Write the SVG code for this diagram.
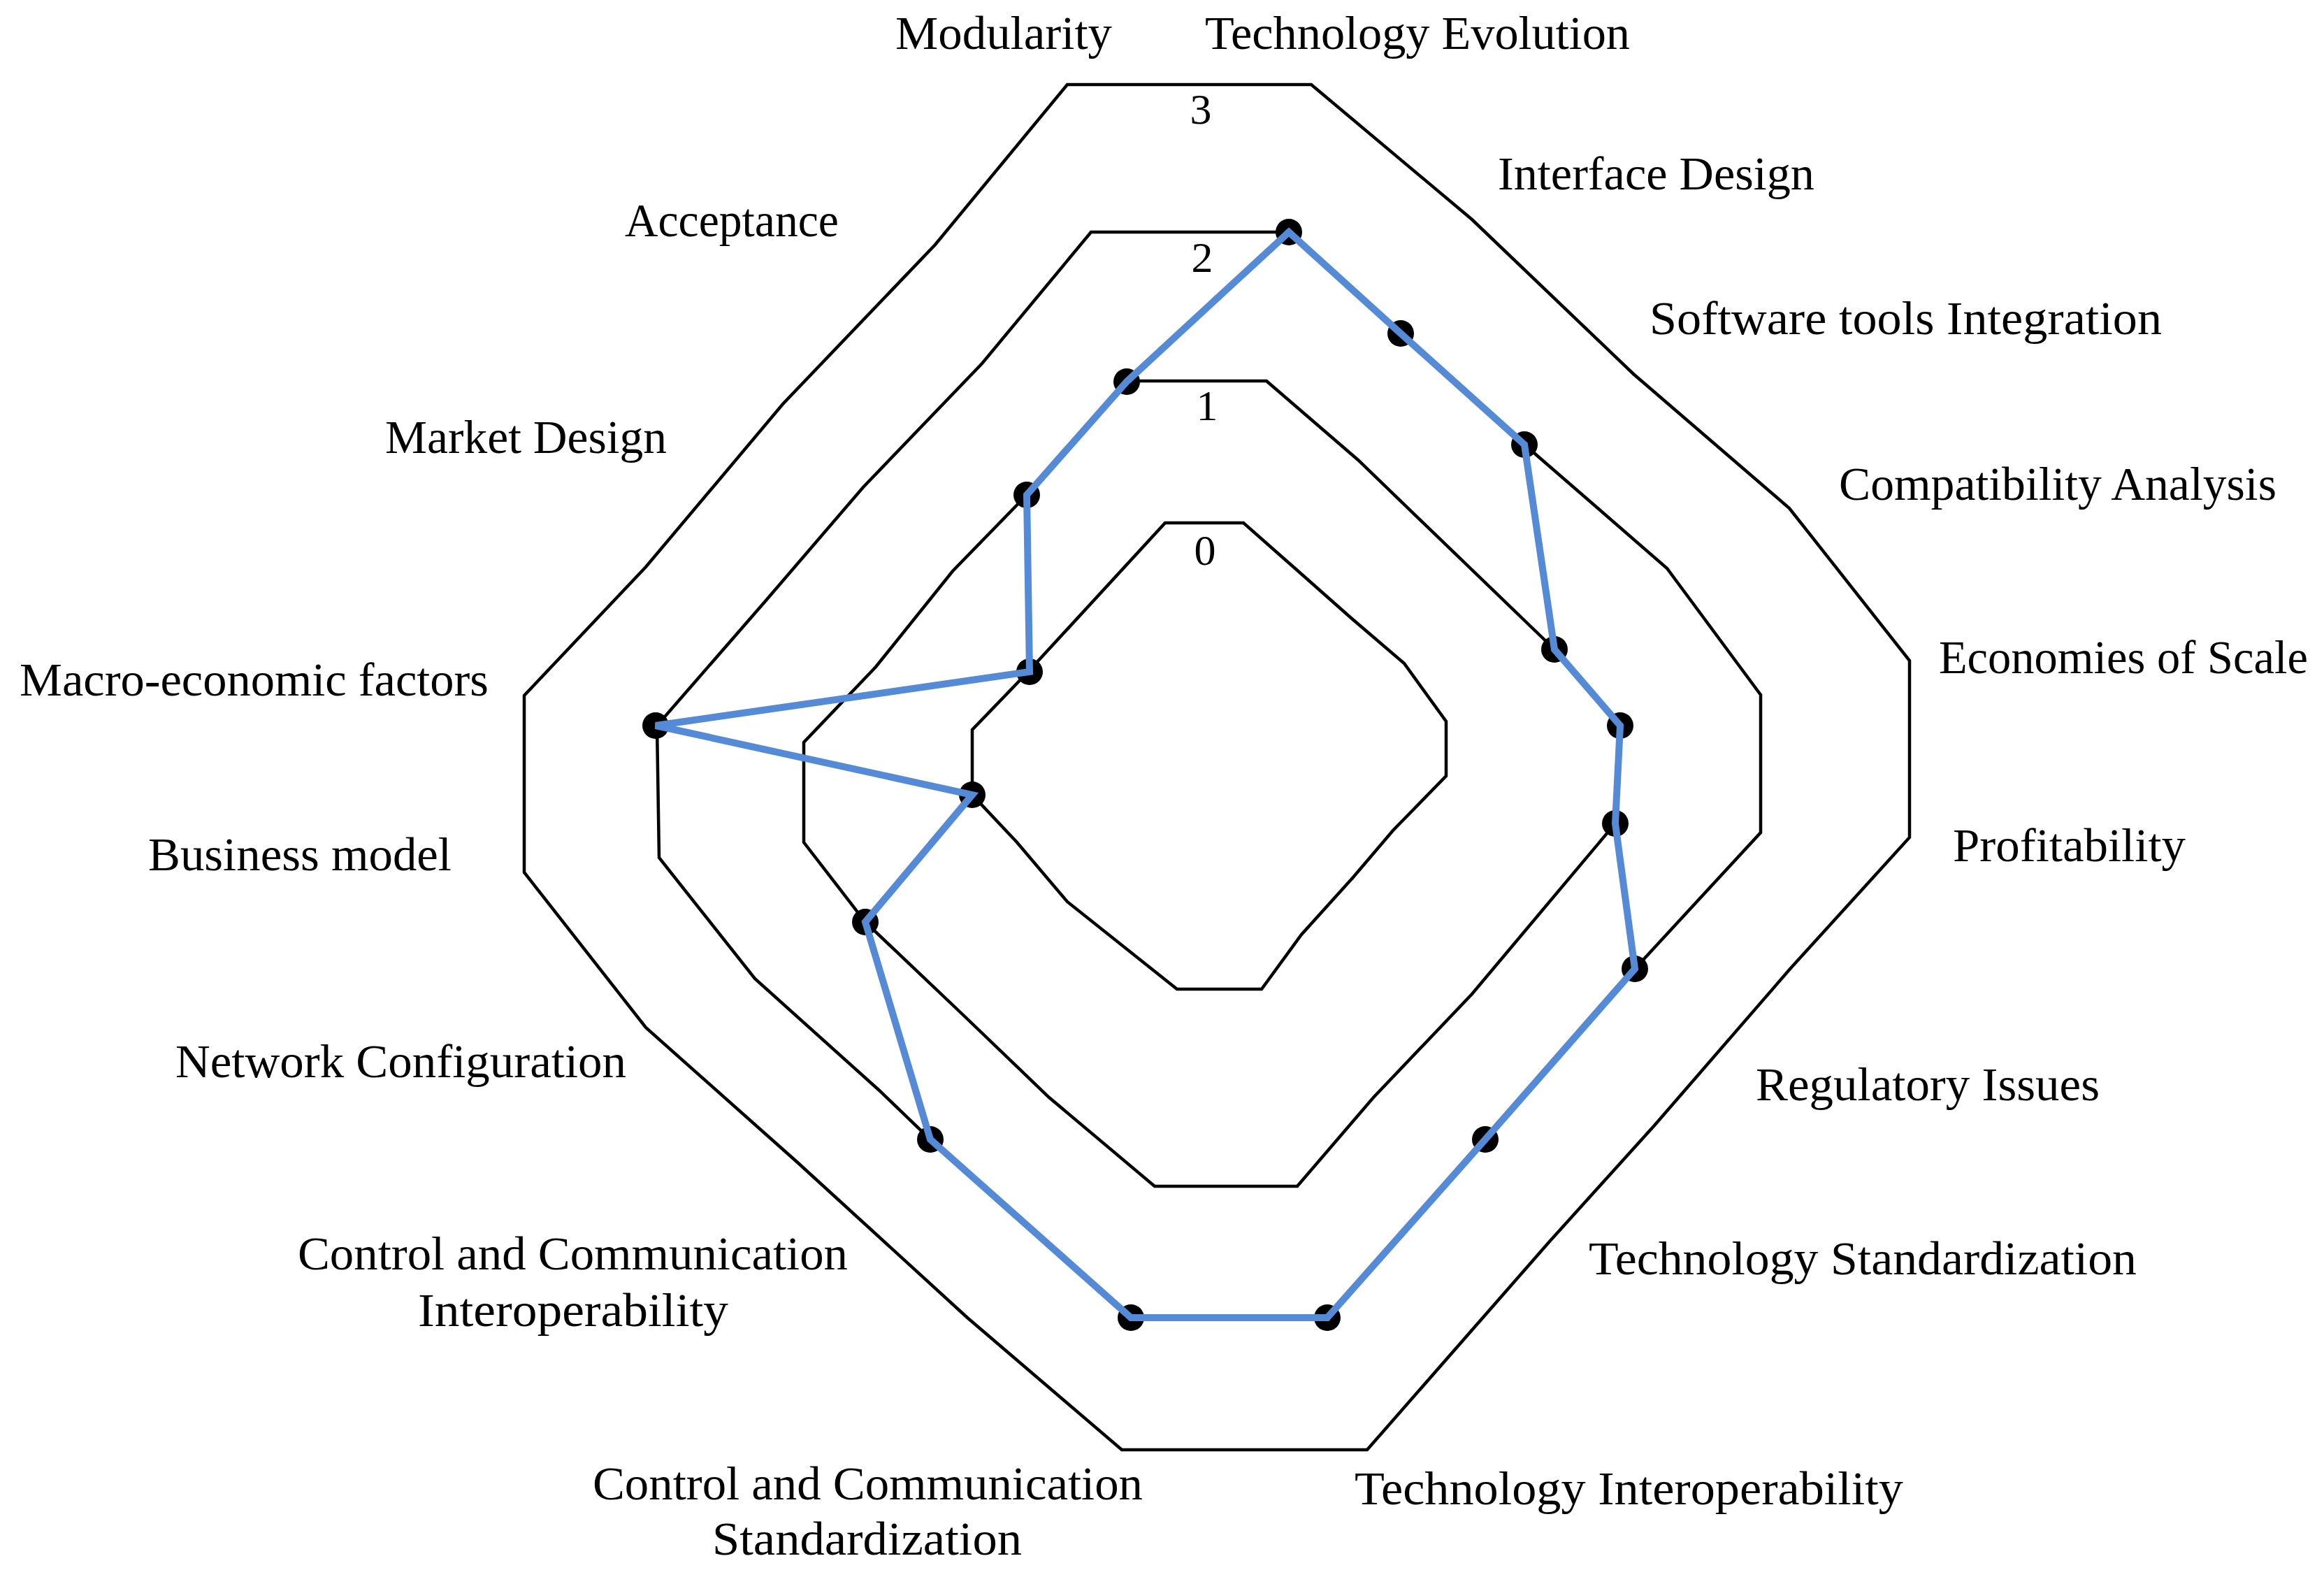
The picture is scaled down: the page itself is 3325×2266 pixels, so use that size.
<svg xmlns="http://www.w3.org/2000/svg" width="3325" height="2266" viewBox="0 0 3325 2266">
<style>
.ring{fill:none;stroke:#000;stroke-width:4.5;stroke-linejoin:miter}
.series{fill:none;stroke:#558AD6;stroke-width:10;stroke-linejoin:miter;stroke-miterlimit:4}
.dot{fill:#000}
.lbl{font-family:"Liberation Serif","DejaVu Serif",serif;font-size:68px;fill:#000}
.tick{font-family:"Liberation Serif","DejaVu Serif",serif;font-size:62px;fill:#000;text-anchor:middle}
</style>
<rect width="3325" height="2266" fill="#fff"/>
<g id="gridlines">
<polygon class="ring" id="ring3" points="1527,121 1876,121 2106,314 2337,535 2560,727 2732,945 2732,1198 2562,1385 2367,1610 2217,1776 1956,2074 1605,2074 1384,1885 1140,1662 924,1470 750,1248 750,995 924,811 1120,578 1338,350"/>
<polygon class="ring" id="ring2" points="1561,332 1844,332 2004,477 2181,636 2385,813 2519,994 2519,1191 2339,1386 2125,1630 1899,1885 1618,1885 1331,1630 1257,1559 1080,1400 943,1227 940,1038 1095,860 1235,697 1405,520"/>
<polygon class="ring" id="ring1" points="1612,545 1812,545 1943,658 2224,929 2318,1038 2311,1178 2106,1422 1965,1570 1856,1697 1652,1697 1501,1570 1377,1451 1238,1319 1150,1205 1150,1062 1253,954 1363,817 1469,708"/>
<polygon class="ring" id="ring0" points="1667,748 1779,748 1855,815 1933,884 2009,949 2069,1032 2069,1110 1993,1188 1936,1255 1862,1337 1805,1415 1684,1415 1527,1290 1455,1205 1391,1137 1391,1044 1470,962"/>
</g>
<g id="ticks">
<text class="tick" x="1718" y="177">3</text>
<text class="tick" x="1720" y="389">2</text>
<text class="tick" x="1727" y="601">1</text>
<text class="tick" x="1724" y="808">0</text>
</g>
<g id="markers">
<circle class="dot" cx="1612" cy="546" r="19"/>
<circle class="dot" cx="1844" cy="332" r="19"/>
<circle class="dot" cx="2004" cy="477" r="19"/>
<circle class="dot" cx="2181" cy="636" r="19"/>
<circle class="dot" cx="2224" cy="929" r="19"/>
<circle class="dot" cx="2318" cy="1038" r="19"/>
<circle class="dot" cx="2311" cy="1178" r="19"/>
<circle class="dot" cx="2339" cy="1386" r="19"/>
<circle class="dot" cx="2125" cy="1630" r="19"/>
<circle class="dot" cx="1899" cy="1885" r="19"/>
<circle class="dot" cx="1618" cy="1885" r="19"/>
<circle class="dot" cx="1331" cy="1630" r="19"/>
<circle class="dot" cx="1238" cy="1319" r="19"/>
<circle class="dot" cx="1391" cy="1137" r="19"/>
<circle class="dot" cx="938" cy="1038" r="19"/>
<circle class="dot" cx="1473" cy="961" r="19"/>
<circle class="dot" cx="1469" cy="708" r="19"/>
</g>
<g id="series">
<polygon class="series" points="1612,546 1844,332 2004,477 2181,636 2224,929 2318,1038 2311,1178 2339,1386 2125,1630 1899,1885 1618,1885 1331,1630 1238,1319 1391,1137 938,1038 1473,961 1469,708"/>
</g>
<g id="labels">
<text class="lbl" x="1281" y="70" textLength="310" lengthAdjust="spacingAndGlyphs">Modularity</text>
<text class="lbl" x="1724" y="70" textLength="608" lengthAdjust="spacingAndGlyphs">Technology Evolution</text>
<text class="lbl" x="2143" y="271" textLength="453" lengthAdjust="spacingAndGlyphs">Interface Design</text>
<text class="lbl" x="2360" y="478" textLength="733" lengthAdjust="spacingAndGlyphs">Software tools Integration</text>
<text class="lbl" x="2631" y="715" textLength="626" lengthAdjust="spacingAndGlyphs">Compatibility Analysis</text>
<text class="lbl" x="2774" y="963" textLength="528" lengthAdjust="spacingAndGlyphs">Economies of Scale</text>
<text class="lbl" x="2794" y="1232" textLength="333" lengthAdjust="spacingAndGlyphs">Profitability</text>
<text class="lbl" x="2512" y="1574" textLength="492" lengthAdjust="spacingAndGlyphs">Regulatory Issues</text>
<text class="lbl" x="2273" y="1823" textLength="784" lengthAdjust="spacingAndGlyphs">Technology Standardization</text>
<text class="lbl" x="1938" y="2152" textLength="785" lengthAdjust="spacingAndGlyphs">Technology Interoperability</text>
<text class="lbl" x="848" y="2145" textLength="787" lengthAdjust="spacingAndGlyphs">Control and Communication</text>
<text class="lbl" x="1019" y="2224" textLength="443" lengthAdjust="spacingAndGlyphs">Standardization</text>
<text class="lbl" x="426" y="1816" textLength="787" lengthAdjust="spacingAndGlyphs">Control and Communication</text>
<text class="lbl" x="598" y="1897" textLength="444" lengthAdjust="spacingAndGlyphs">Interoperability</text>
<text class="lbl" x="251" y="1541" textLength="645" lengthAdjust="spacingAndGlyphs">Network Configuration</text>
<text class="lbl" x="212" y="1245" textLength="434" lengthAdjust="spacingAndGlyphs">Business model</text>
<text class="lbl" x="28" y="995" textLength="671" lengthAdjust="spacingAndGlyphs">Macro-economic factors</text>
<text class="lbl" x="551" y="648" textLength="403" lengthAdjust="spacingAndGlyphs">Market Design</text>
<text class="lbl" x="894" y="338" textLength="306" lengthAdjust="spacingAndGlyphs">Acceptance</text>
</g>
</svg>
